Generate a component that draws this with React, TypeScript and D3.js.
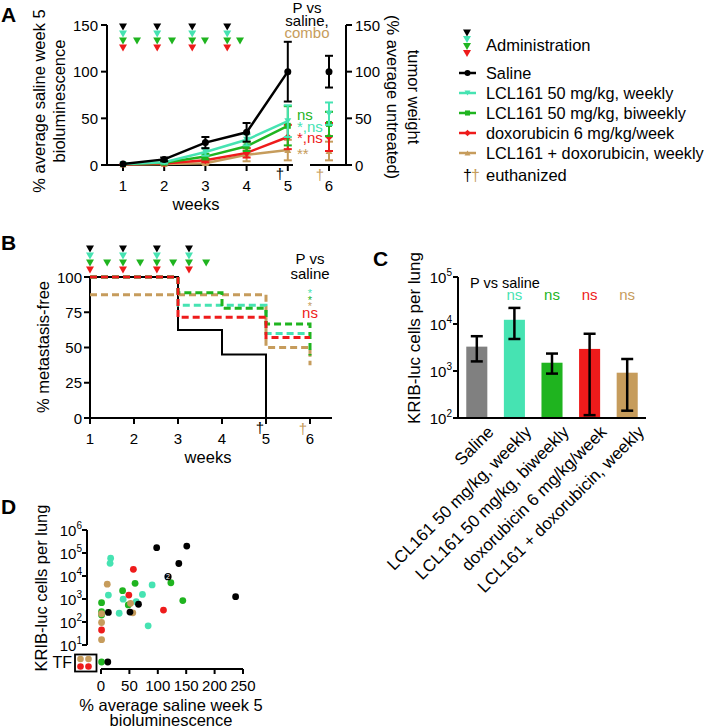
import React from "react";
import * as d3 from "d3";

const FONT = "'Liberation Sans', Arial, Helvetica, sans-serif";

// ---------- Panel A data ----------
const weeksA = [1, 2, 3, 4, 5];
const salineBio = [1, 6, 24, 35, 100];
const salineBioErr = [0.5, 2, 6, 10, 32];
const weeklyBio = [1, 3, 14, 27, 47];
const weeklyBioErr = [0.5, 1.5, 4, 6, 17];
const biweeklyBio = [1, 2.5, 9, 20, 42];
const biweeklyBioErr = [0.5, 1, 3, 5, 21];
const doxBio = [0.8, 1.5, 5, 13, 30];
const doxBioErr = [0.4, 0.8, 2, 5, 13];
const comboBio = [0.5, 1, 2, 11, 16];
const comboBioErr = [0.3, 0.5, 1, 7, 11];
const tumorWeightWeek = 6;
const tumorWeight = [100, 55, 44, 30, 15];
const tumorWeightErr = [17, 12, 13, 15, 10];
const adminA = [1, 1.83, 2.68, 3.53];
const adminExtraA = [1.34, 2.19, 2.99, 3.84];
const ticksA = [0, 50, 100, 150];
const weekTicksA = [1, 2, 3, 4, 5, 6];

// ---------- Panel B data ----------
const kmSaline = [[1, 100], [3, 62.5], [4, 45], [5, 0]];
const kmWeekly = [[1, 100], [3, 80], [5, 60], [6, 60]];
const kmBiweekly = [[1, 100], [3, 88.9], [4, 77.8], [5, 66.7], [6, 66.7], [6, 44.4]];
const kmDox = [[1, 100], [3, 71.4], [5, 57.1], [6, 57.1]];
const kmCombo = [[1, 87.5], [5, 50], [6, 50], [6, 37.5]];
const adminB = [1, 1.75, 2.52, 3.25];
const adminExtraB = [1.39, 2.14, 2.89, 3.64];
const ticksB = [0, 25, 50, 75, 100];
const weekTicksB = [1, 2, 3, 4, 5, 6];

// ---------- Panel C data ----------
const cCategories = [
  "Saline",
  "LCL161 50 mg/kg, weekly",
  "LCL161 50 mg/kg, biweekly",
  "doxorubicin 6 mg/kg/week",
  "LCL161 + doxorubicin, weekly",
];
const cMeans = [3300, 12300, 1500, 2950, 920];
const cUpper = [5500, 22000, 2350, 6200, 1800];
const cLower = [1600, 4800, 880, 115, 143];
const cSig = ["", "ns", "ns", "ns", "ns"];
const cExponents = [2, 3, 4, 5];

// ---------- Panel D data ----------
const dSalineX = [98, 151, 137, 13, 51, 66, 237];
const dSalineY = [170000, 200000, 35000, 260, 270, 590, 1260];
const dSalineDoubleX = [118];
const dSalineDoubleY = [9300];
const dWeeklyX = [17, 16, 90, 73, 13, 39, 62, 32, 83];
const dWeeklyY = [59000, 35500, 4100, 1580, 1480, 980, 760, 240, 68];
const dBiweeklyX = [1, 1, 1, 38, 60, 48, 123, 144];
const dBiweeklyY = [690, 280, 200, 2300, 4800, 550, 5100, 850];
const dDoxX = [57, 49, 110, 1];
const dDoxY = [19500, 1480, 330, 45];
const dComboX = [11, 1, 1, 1, 52, 56];
const dComboY = [4400, 230, 95, 17, 650, 250];
const dTFSalineX = [12];
const dTFBiweeklyX = [1];
const dTFBoxCombo = 2;
const dTFBoxDox = 2;
const dExponents = [1, 2, 3, 4, 5, 6];
const dXTicks = [0, 50, 100, 150, 200, 250];

// ---------- colours ----------
const C_SAL = "#000000";
const C_WK = "#46E3B2";
const C_BW = "#1FB41F";
const C_DOX = "#EE1B1B";
const C_CMB = "#C69C5C";
const C_GRAY = "#808080";

type MType = "circle" | "triDown" | "square" | "diamond" | "triUp";

function markerPath(t: MType, x: number, y: number, s: number) {
  const h = s / 2;
  switch (t) {
    case "triDown":
      return `M${x - h},${y - h * 0.85}L${x + h},${y - h * 0.85}L${x},${y + h * 0.85}Z`;
    case "triUp":
      return `M${x - h},${y + h * 0.85}L${x + h},${y + h * 0.85}L${x},${y - h * 0.85}Z`;
    case "square":
      return `M${x - h * 0.85},${y - h * 0.85}h${s * 0.85}v${s * 0.85}h${-s * 0.85}Z`;
    case "diamond":
      return `M${x},${y - h * 1.1}L${x + h * 1.1},${y}L${x},${y + h * 1.1}L${x - h * 1.1},${y}Z`;
    default:
      return "";
  }
}

function Marker({ t, x, y, color, s = 7 }: { t: MType; x: number; y: number; color: string; s?: number }) {
  if (t === "circle") return <circle cx={x} cy={y} r={s / 2} fill={color} />;
  return <path d={markerPath(t, x, y, s)} fill={color} />;
}

function Tri({ x, y, color }: { x: number; y: number; color: string }) {
  return <path d={markerPath("triDown", x, y, 8)} fill={color} />;
}

function Pow({ x, y, exp, anchor = "end" }: { x: number; y: number; exp: number; anchor?: string }) {
  return (
    <text x={x} y={y} textAnchor={anchor as any} fontSize={15}>
      10
      <tspan dy={-7} fontSize={10}>
        {exp}
      </tspan>
    </text>
  );
}

export default function App() {
  // ---------------- Panel A ----------------
  const xA = d3.scaleLinear().domain([1, 6]).range([123, 329]);
  const yA = d3.scaleLinear().domain([0, 150]).range([165, 25]);
  const lineA = d3
    .line<number[]>()
    .x((d) => xA(d[0]))
    .y((d) => yA(d[1]));

  const seriesA = [
    { vals: comboBio, err: comboBioErr, color: C_CMB, t: "triUp" as MType, tw: tumorWeight[4], twe: tumorWeightErr[4] },
    { vals: doxBio, err: doxBioErr, color: C_DOX, t: "diamond" as MType, tw: tumorWeight[3], twe: tumorWeightErr[3] },
    { vals: biweeklyBio, err: biweeklyBioErr, color: C_BW, t: "square" as MType, tw: tumorWeight[2], twe: tumorWeightErr[2] },
    { vals: weeklyBio, err: weeklyBioErr, color: C_WK, t: "triDown" as MType, tw: tumorWeight[1], twe: tumorWeightErr[1] },
    { vals: salineBio, err: salineBioErr, color: C_SAL, t: "circle" as MType, tw: tumorWeight[0], twe: tumorWeightErr[0] },
  ];

  // ---------------- Panel B ----------------
  const xB = d3.scaleLinear().domain([1, 6]).range([90, 310]);
  const yB = d3.scaleLinear().domain([0, 100]).range([418, 277]);
  const stepB = d3
    .line<number[]>()
    .x((d) => xB(d[0]))
    .y((d) => yB(d[1]))
    .curve(d3.curveStepAfter);

  // ---------------- Panel C ----------------
  const xC = d3.scaleBand<string>().domain(cCategories).range([458, 646]).paddingInner(0.44).paddingOuter(0.22);
  const yC = d3.scaleLog().domain([100, 100000]).range([418, 277]);
  const cColors = [C_GRAY, C_WK, C_BW, C_DOX, C_CMB];

  // ---------------- Panel D ----------------
  const xD = d3.scaleLinear().domain([0, 250]).range([101, 243]);
  const yD = d3.scaleLog().domain([10, 1e6]).range([645, 530]);
  const TF_Y = 662;
  const dGroups = [
    { xs: dWeeklyX, ys: dWeeklyY, c: C_WK },
    { xs: dBiweeklyX, ys: dBiweeklyY, c: C_BW },
    { xs: dComboX, ys: dComboY, c: C_CMB },
    { xs: dDoxX, ys: dDoxY, c: C_DOX },
    { xs: dSalineX, ys: dSalineY, c: C_SAL },
  ];

  const axisW = 2;

  return (
    <svg
      width={709}
      height={728}
      style={{ position: "absolute", left: 0, top: 0, background: "#fff" }}
      fontFamily={FONT}
    >
      <rect width={709} height={728} fill="#fff" />

      {/* ================= PANEL A ================= */}
      <text x={1} y={22} fontSize={21} fontWeight="bold">A</text>
      {adminA.map((w, i) => (
        <g key={"aa" + i}>
          <Tri x={xA(w)} y={27} color={C_SAL} />
          <Tri x={xA(w)} y={34} color={C_WK} />
          <Tri x={xA(w)} y={41} color={C_BW} />
          <Tri x={xA(w)} y={48} color={C_DOX} />
        </g>
      ))}
      {adminExtraA.map((w, i) => (
        <Tri key={"ae" + i} x={xA(w)} y={41} color={C_BW} />
      ))}
      <line x1={107} x2={107} y1={yA(150)} y2={yA(0)} stroke="#000" strokeWidth={axisW} />
      {ticksA.map((t) => (
        <g key={"ta" + t}>
          <line x1={101} x2={107} y1={yA(t)} y2={yA(t)} stroke="#000" strokeWidth={axisW} />
          <text x={98} y={yA(t) + 5.5} textAnchor="end" fontSize={15}>{t}</text>
        </g>
      ))}
      <line x1={346} x2={346} y1={yA(150)} y2={yA(0)} stroke="#000" strokeWidth={axisW} />
      {ticksA.map((t) => (
        <g key={"tar" + t}>
          <line x1={346} x2={352} y1={yA(t)} y2={yA(t)} stroke="#000" strokeWidth={axisW} />
          <text x={355} y={yA(t) + 5.5} textAnchor="start" fontSize={15}>{t}</text>
        </g>
      ))}
      <line x1={106} x2={293} y1={165} y2={165} stroke="#000" strokeWidth={axisW} />
      <line x1={310} x2={347} y1={165} y2={165} stroke="#000" strokeWidth={axisW} />
      {weekTicksA.map((w) => (
        <g key={"wa" + w}>
          <line x1={xA(w)} x2={xA(w)} y1={165} y2={171} stroke="#000" strokeWidth={axisW} />
          <text x={xA(w)} y={191} textAnchor="middle" fontSize={15}>{w}</text>
        </g>
      ))}
      <text x={196} y={210} textAnchor="middle" fontSize={16.5}>weeks</text>
      <text transform="translate(45,101) rotate(-90)" textAnchor="middle" fontSize={16.5}>% average saline week 5</text>
      <text transform="translate(65,101) rotate(-90)" textAnchor="middle" fontSize={16.5}>bioluminescence</text>
      <text transform="translate(408,97) rotate(90)" textAnchor="middle" fontSize={16.5}>tumor weight</text>
      <text transform="translate(387,97) rotate(90)" textAnchor="middle" fontSize={16.5}>(% average untreated)</text>

      {seriesA.map((s, si) => {
        const pts = weeksA.map((w, i) => [w, s.vals[i]]);
        return (
          <g key={"sa" + si}>
            <path d={lineA(pts) || ""} fill="none" stroke={s.color} strokeWidth={2.5} />
            {weeksA.map((w, i) =>
              i === 0 ? null : (
                <g key={i} stroke={s.color} strokeWidth={2}>
                  <line x1={xA(w)} x2={xA(w)} y1={yA(s.vals[i] + s.err[i])} y2={yA(Math.max(0, s.vals[i] - s.err[i]))} />
                  <line x1={xA(w) - 4} x2={xA(w) + 4} y1={yA(s.vals[i] + s.err[i])} y2={yA(s.vals[i] + s.err[i])} />
                  <line x1={xA(w) - 4} x2={xA(w) + 4} y1={yA(Math.max(0, s.vals[i] - s.err[i]))} y2={yA(Math.max(0, s.vals[i] - s.err[i]))} />
                </g>
              )
            )}
            {weeksA.map((w, i) => (
              <Marker key={"m" + i} t={s.t} x={xA(w)} y={yA(s.vals[i])} color={s.color} />
            ))}
            <g stroke={s.color} strokeWidth={2}>
              <line x1={xA(tumorWeightWeek)} x2={xA(tumorWeightWeek)} y1={yA(s.tw + s.twe)} y2={yA(s.tw - s.twe)} />
              <line x1={xA(tumorWeightWeek) - 4} x2={xA(tumorWeightWeek) + 4} y1={yA(s.tw + s.twe)} y2={yA(s.tw + s.twe)} />
              <line x1={xA(tumorWeightWeek) - 4} x2={xA(tumorWeightWeek) + 4} y1={yA(s.tw - s.twe)} y2={yA(s.tw - s.twe)} />
            </g>
            <Marker t={s.t} x={xA(tumorWeightWeek)} y={yA(s.tw)} color={s.color} />
          </g>
        );
      })}
      <text x={307} y={13} textAnchor="middle" fontSize={15}>P vs</text>
      <text x={307} y={26} textAnchor="middle" fontSize={15}>saline,</text>
      <text x={307} y={38} textAnchor="middle" fontSize={15} fill={C_CMB}>combo</text>
      <text x={297} y={120} fontSize={15} fill={C_BW}>ns</text>
      <text x={297} y={132} fontSize={15} fill={C_WK}>*,ns</text>
      <text x={297} y={143} fontSize={15} fill={C_DOX}>*,ns</text>
      <text x={297} y={159} fontSize={15} fill={C_CMB}>**</text>
      <text x={280} y={179} textAnchor="middle" fontSize={15}>†</text>
      <text x={320} y={180} textAnchor="middle" fontSize={15} fill={C_CMB}>†</text>

      {/* legend */}
      <Tri x={467} y={33} color={C_SAL} />
      <Tri x={467} y={39.5} color={C_WK} />
      <Tri x={467} y={46.5} color={C_BW} />
      <Tri x={467} y={53.5} color={C_DOX} />
      <text x={486} y={51} fontSize={16.5}>Administration</text>
      {[
        { n: "Saline", c: C_SAL, t: "circle" as MType },
        { n: "LCL161 50 mg/kg, weekly", c: C_WK, t: "triDown" as MType },
        { n: "LCL161 50 mg/kg, biweekly", c: C_BW, t: "square" as MType },
        { n: "doxorubicin 6 mg/kg/week", c: C_DOX, t: "diamond" as MType },
        { n: "LCL161 + doxorubicin, weekly", c: C_CMB, t: "triUp" as MType },
      ].map((l, i) => {
        const y = 73 + i * 20;
        return (
          <g key={"lg" + i}>
            <line x1={459} x2={476} y1={y} y2={y} stroke={l.c} strokeWidth={2.5} />
            <Marker t={l.t} x={467.5} y={y} color={l.c} s={6} />
            <text x={486} y={y + 6} fontSize={16.3}>{l.n}</text>
          </g>
        );
      })}
      <text x={463} y={181} fontSize={16}>†</text>
      <text x={471} y={181} fontSize={16} fill={C_CMB}>†</text>
      <text x={486} y={181} fontSize={16.5}>euthanized</text>

      {/* ================= PANEL B ================= */}
      <text x={1} y={250} fontSize={21} fontWeight="bold">B</text>
      {adminB.map((w, i) => (
        <g key={"ab" + i}>
          <Tri x={xB(w)} y={249} color={C_SAL} />
          <Tri x={xB(w)} y={256} color={C_WK} />
          <Tri x={xB(w)} y={263} color={C_BW} />
          <Tri x={xB(w)} y={270} color={C_DOX} />
        </g>
      ))}
      {adminExtraB.map((w, i) => (
        <Tri key={"abe" + i} x={xB(w)} y={263} color={C_BW} />
      ))}
      <line x1={90} x2={90} y1={yB(100)} y2={yB(0)} stroke="#000" strokeWidth={axisW} />
      {ticksB.map((t) => (
        <g key={"tb" + t}>
          <line x1={84} x2={90} y1={yB(t)} y2={yB(t)} stroke="#000" strokeWidth={axisW} />
          <text x={82} y={yB(t) + 5.5} textAnchor="end" fontSize={15}>{t}</text>
        </g>
      ))}
      <line x1={89} x2={332} y1={418} y2={418} stroke="#000" strokeWidth={axisW} />
      {weekTicksB.map((w) => (
        <g key={"wb" + w}>
          <line x1={xB(w)} x2={xB(w)} y1={418} y2={424} stroke="#000" strokeWidth={axisW} />
          <text x={xB(w)} y={444} textAnchor="middle" fontSize={15}>{w}</text>
        </g>
      ))}
      <text x={208} y={463} textAnchor="middle" fontSize={16.5}>weeks</text>
      <text transform="translate(49,347) rotate(-90)" textAnchor="middle" fontSize={16.5}>% metastasis-free</text>

      <path d={stepB(kmSaline) || ""} fill="none" stroke={C_SAL} strokeWidth={2} />
      <path d={stepB(kmCombo) || ""} fill="none" stroke={C_CMB} strokeWidth={3} strokeDasharray="7,4" />
      <path d={stepB(kmWeekly) || ""} fill="none" stroke={C_WK} strokeWidth={3} strokeDasharray="7,4" />
      <path d={stepB(kmBiweekly) || ""} fill="none" stroke={C_BW} strokeWidth={3} strokeDasharray="7,4" />
      <path d={stepB(kmDox) || ""} fill="none" stroke={C_DOX} strokeWidth={3} strokeDasharray="7,4" />

      <text x={310} y={264} textAnchor="middle" fontSize={15}>P vs</text>
      <text x={310} y={279} textAnchor="middle" fontSize={15}>saline</text>
      <text x={310} y={297} textAnchor="middle" fontSize={11} fill={C_WK}>*</text>
      <text x={310} y={303.5} textAnchor="middle" fontSize={11} fill={C_BW}>*</text>
      <text x={310} y={310} textAnchor="middle" fontSize={11} fill={C_CMB}>*</text>
      <text x={310} y={318} textAnchor="middle" fontSize={15} fill={C_DOX}>ns</text>
      <text x={260} y={433} textAnchor="middle" fontSize={15}>†</text>
      <text x={303} y={434} textAnchor="middle" fontSize={15} fill={C_CMB}>†</text>

      {/* ================= PANEL C ================= */}
      <text x={373} y={266} fontSize={21} fontWeight="bold">C</text>
      <text transform="translate(420,338) rotate(-90)" textAnchor="middle" fontSize={17}>KRIB-luc cells per lung</text>
      <line x1={458} x2={458} y1={yC(100000)} y2={yC(100)} stroke="#000" strokeWidth={axisW} />
      {cExponents.map((e) => (
        <g key={"ce" + e}>
          <line x1={453} x2={458} y1={yC(Math.pow(10, e))} y2={yC(Math.pow(10, e))} stroke="#000" strokeWidth={axisW} />
          <Pow x={452} y={yC(Math.pow(10, e)) + 6} exp={e} />
        </g>
      ))}
      <line x1={457} x2={646} y1={418} y2={418} stroke="#000" strokeWidth={axisW} />
      {cCategories.map((c, i) => {
        const cx = (xC(c) || 0) + xC.bandwidth() / 2;
        return (
          <g key={"cb" + i}>
            <rect x={xC(c)} y={yC(cMeans[i])} width={xC.bandwidth()} height={417 - yC(cMeans[i])} fill={cColors[i]} />
            <g stroke="#000" strokeWidth={2.5}>
              <line x1={cx} x2={cx} y1={yC(cUpper[i])} y2={yC(cLower[i])} />
              <line x1={cx - 6} x2={cx + 6} y1={yC(cUpper[i])} y2={yC(cUpper[i])} />
              <line x1={cx - 6} x2={cx + 6} y1={yC(cLower[i])} y2={yC(cLower[i])} />
            </g>
            <text x={cx} y={300} textAnchor="middle" fontSize={15} fill={cColors[i]}>{cSig[i]}</text>
            <text transform={`translate(${cx + 18},433) rotate(-45)`} textAnchor="end" fontSize={17}>{c}</text>
          </g>
        );
      })}
      <text x={470} y={288} fontSize={14.5}>P vs saline</text>

      {/* ================= PANEL D ================= */}
      <text x={1} y={514} fontSize={21} fontWeight="bold">D</text>
      <text transform="translate(47,588) rotate(-90)" textAnchor="middle" fontSize={16.5}>KRIB-luc cells per lung</text>
      <line x1={87} x2={87} y1={yD(1e6)} y2={yD(10)} stroke="#000" strokeWidth={axisW} />
      {dExponents.map((e) => (
        <g key={"de" + e}>
          <line x1={82} x2={87} y1={yD(Math.pow(10, e))} y2={yD(Math.pow(10, e))} stroke="#000" strokeWidth={axisW} />
          <Pow x={82} y={yD(Math.pow(10, e)) + 6} exp={e} />
        </g>
      ))}
      <text x={72} y={668} textAnchor="end" fontSize={16}>TF</text>
      <rect x={75} y={654.5} width={21.5} height={17} fill="none" stroke="#000" strokeWidth={1.8} />
      {d3.range(dTFBoxCombo).map((i) => (
        <circle key={"tfc" + i} cx={80.5 + i * 8} cy={659} r={3.3} fill={C_CMB} />
      ))}
      {d3.range(dTFBoxDox).map((i) => (
        <circle key={"tfd" + i} cx={80.5 + i * 8} cy={666.5} r={3.3} fill={C_DOX} />
      ))}
      <line x1={101} x2={243} y1={669} y2={669} stroke="#000" strokeWidth={axisW} />
      {dXTicks.map((t) => (
        <g key={"dx" + t}>
          <line x1={xD(t)} x2={xD(t)} y1={669} y2={674} stroke="#000" strokeWidth={axisW} />
          <text x={xD(t)} y={691} textAnchor="middle" fontSize={15}>{t}</text>
        </g>
      ))}
      <text x={171} y={711} textAnchor="middle" fontSize={16.5}>% average saline week 5</text>
      <text x={171} y={726} textAnchor="middle" fontSize={16.5}>bioluminescence</text>

      {dGroups.map((g, gi) =>
        g.xs.map((x, i) => (
          <circle key={"dp" + gi + "_" + i} cx={xD(x)} cy={yD(g.ys[i])} r={3.4} fill={g.c} />
        ))
      )}
      {dSalineDoubleX.map((x, i) => (
        <g key={"dd" + i}>
          <circle cx={xD(x)} cy={yD(dSalineDoubleY[i])} r={3.6} fill="#000" />
          <text x={xD(x)} y={yD(dSalineDoubleY[i]) + 2.5} textAnchor="middle" fontSize={7} fill="#fff">2</text>
        </g>
      ))}
      {dTFBiweeklyX.map((x, i) => (
        <circle key={"tfb" + i} cx={xD(x)} cy={TF_Y} r={3.4} fill={C_BW} />
      ))}
      {dTFSalineX.map((x, i) => (
        <circle key={"tfs" + i} cx={xD(x)} cy={TF_Y} r={3.4} fill={C_SAL} />
      ))}
    </svg>
  );
}
